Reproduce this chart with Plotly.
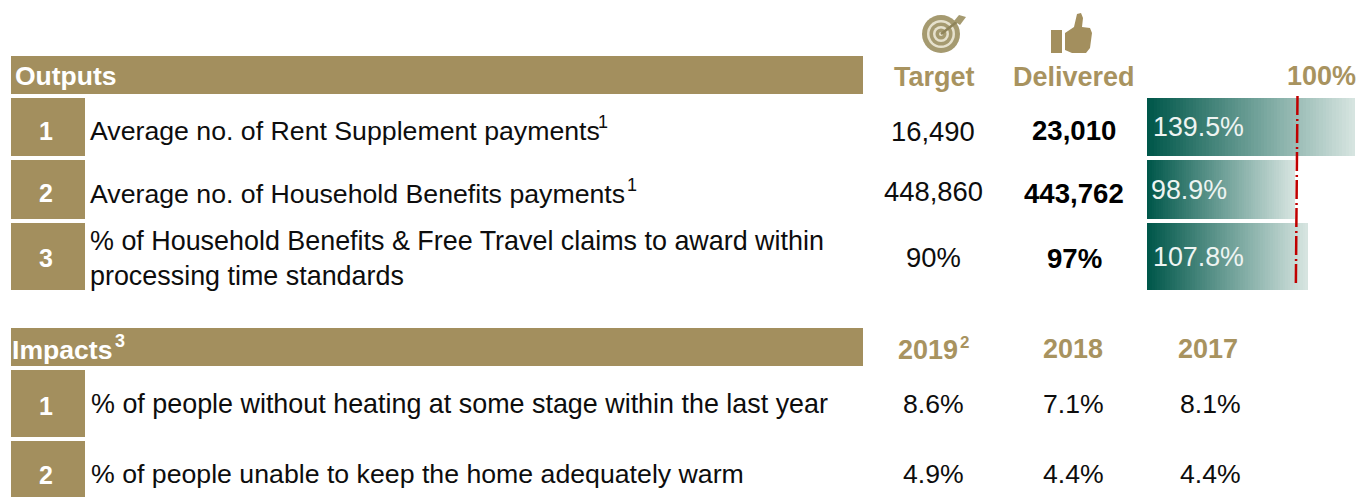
import plotly.graph_objects as go

GOLD = "#a38f5e"
HEAD = "#a8935f"
DARK = "#00574a"
LIGHT = "#d6e4e0"
RED = "#c00000"
FONT = "Liberation Sans"

output_labels = [
    "Average no. of Rent Supplement payments",
    "Average no. of Household Benefits payments",
    "% of Household Benefits & Free Travel claims to award within<br>processing time standards",
]
output_targets = ["16,490", "448,860", "90%"]
output_delivered = ["23,010", "443,762", "97%"]
output_pct = [139.5, 98.9, 107.8]

impact_labels = [
    "% of people without heating at some stage within the last year",
    "% of people unable to keep the home adequately warm",
]
impact_2019 = ["8.6%", "4.9%"]
impact_2018 = ["7.1%", "4.4%"]
impact_2017 = ["8.1%", "4.4%"]

# page layout in pixels: (top, bottom) of every row
output_rows = [(98, 156), (160, 219), (223, 290)]
impact_rows = [(370, 437), (441, 497)]
output_label_sizes = [26.7, 26.7, 26.9]
impact_label_sizes = [26.9, 26.7]
# vertical nudges per output row
number_nudge = [4, 3, 1]
target_nudge = [4, 2, 1]
delivered_nudge = [3, 4, 2]
BAR_LEFT = 1147
PX_PER_PCT = 1.493
STEPS = 64


def blend(t):
    a = [int(DARK[i:i + 2], 16) for i in (1, 3, 5)]
    b = [int(LIGHT[i:i + 2], 16) for i in (1, 3, 5)]
    return "rgb(%d,%d,%d)" % tuple(round(p + (q - p) * t) for p, q in zip(a, b))


fig = go.Figure()

# gradient bars: each bar is a stack of thin slices of its own value
centers = [(t + b) / 2 for t, b in output_rows]
widths = [b - t for t, b in output_rows]
for step in range(STEPS):
    fig.add_trace(
        go.Bar(
            x=[v / STEPS for v in output_pct],
            y=centers,
            width=widths,
            orientation="h",
            marker={"color": blend(step / (STEPS - 1)), "line": {"width": 0}},
            xaxis="x2",
            yaxis="y",
            showlegend=False,
            hoverinfo="skip",
        )
    )


def rect(x0, y0, x1, y1, color=GOLD):
    fig.add_shape(type="rect", x0=x0, x1=x1, y0=y0, y1=y1, xref="x", yref="y",
                  fillcolor=color, line={"width": 0}, layer="below")


def text(x, y, s, size=24, color="#0d0d0d", bold=False, anchor="center"):
    fig.add_annotation(x=x, y=y, xref="x", yref="y", text=f"<b>{s}</b>" if bold else s,
                       showarrow=False, xanchor=anchor, yanchor="middle", align="left",
                       font={"family": FONT, "size": size, "color": color})


# section headers
rect(11, 56, 863, 94)
rect(11, 328, 863, 366)
text(13, 76, "Outputs", 26.5, "white", True, "left")
text(10, 350, "Impacts", 26.6, "white", True, "left")
text(120, 341, "3", 18, "white", True)
text(934, 77, "Target", 27, HEAD, True)
text(1074, 77, "Delivered", 27, HEAD, True)
text(1321, 76, "100%", 27, HEAD, True)
text(928, 350, "2019", 27, HEAD, True)
text(964, 342, "2", 17, HEAD, True)
text(1073, 349, "2018", 27, HEAD, True)
text(1208, 349, "2017", 27, HEAD, True)

# output rows
for i, (top, bottom) in enumerate(output_rows):
    mid = (top + bottom) / 2
    rect(11, top, 85, bottom)
    text(46, mid + number_nudge[i], str(i + 1), 25, "white", True)
    text(88, mid + 4 if i < 2 else mid + 2, output_labels[i], output_label_sizes[i], anchor="left")
    text(933, mid + target_nudge[i], output_targets[i], 27.4)
    text(1074, mid + delivered_nudge[i], output_delivered[i], 27.6, "#000000", True)
    text(1151 if i != 1 else 1149, mid, f"{output_pct[i]}%", 26.8, "#eef4f2", anchor="left")
text(603, 122, "1", 18)
text(632, 185, "1", 18)

# impact rows
for i, (top, bottom) in enumerate(impact_rows):
    mid = (top + bottom) / 2
    rect(11, top, 85, bottom)
    text(46, mid + 2 if i == 0 else mid + 6, str(i + 1), 25, "white", True)
    text(89, mid if i == 0 else mid + 5, impact_labels[i], impact_label_sizes[i], anchor="left")
    text(933, mid if i == 0 else mid + 5, impact_2019[i], 26.6)
    text(1073, mid if i == 0 else mid + 5, impact_2018[i], 26.6)
    text(1210, mid if i == 0 else mid + 5, impact_2017[i], 26.6)

# target icon
for r, c in [(19, "#a59a70"), (14, "#e6e1cd"), (11.5, "#a59a70"), (8, "#e6e1cd"), (5.5, "#a59a70"), (2, "#e6e1cd")]:
    fig.add_shape(type="circle", x0=941 - r, x1=941 + r, y0=34 - r, y1=34 + r, xref="x", yref="y",
                  fillcolor=c, line={"width": 0})
fig.add_shape(type="line", x0=941, x1=958, y0=34, y1=21, xref="x", yref="y",
              line={"color": "#8f845a", "width": 2.5})
fig.add_shape(type="path", path="M 954 21 L 959 15 L 966 17 L 960 25 Z", xref="x", yref="y",
              fillcolor="#a59a70", line={"width": 0})

# thumbs-up icon
fig.add_shape(type="rect", x0=1051, x1=1062, y0=30, y1=53, xref="x", yref="y",
              fillcolor=GOLD, line={"width": 0})
fig.add_shape(
    type="path",
    path="M 1065 33 L 1074 27 L 1077 14 L 1081 13 L 1083 18 L 1082 27 L 1090 28 L 1092 33 "
         "L 1090 48 L 1086 53 L 1072 53 L 1065 50 Z",
    xref="x", yref="y", fillcolor=GOLD, line={"width": 0},
)

# 100% reference line
fig.add_shape(type="line", x0=100.8, x1=99.7, y0=96, y1=285, xref="x2", yref="y",
              line={"color": RED, "width": 2.5, "dash": "19px,4px,2px,3px"})

fig.update_layout(
    width=1359,
    height=497,
    barmode="stack",
    bargap=0,
    margin={"l": 0, "r": 0, "t": 0, "b": 0},
    paper_bgcolor="white",
    plot_bgcolor="rgba(0,0,0,0)",
    xaxis={"visible": False, "range": [0, 1359], "domain": [0, 1]},
    xaxis2={"visible": False, "range": [0, (1359 - BAR_LEFT) / PX_PER_PCT],
            "domain": [BAR_LEFT / 1359, 1], "anchor": "y"},
    yaxis={"visible": False, "range": [497, 0]},
    hovermode=False,
)
fig.write_html("out.html", config={"displayModeBar": False},
               post_script="document.body.style.margin = '0';")
